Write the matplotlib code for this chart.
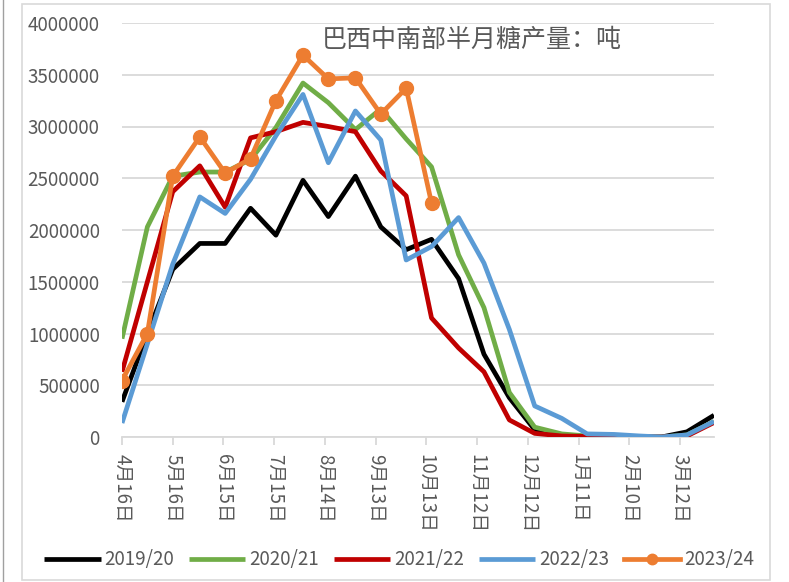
import pandas as pd
import matplotlib.pyplot as plt
import matplotlib.ticker as mticker
from matplotlib.lines import Line2D
from matplotlib.patches import Rectangle

plt.rcParams['font.family'] = ['Noto Sans CJK SC', 'DejaVu Sans']

# 半月数据日期（日期轴）
dates = ['2021-04-16', '2021-05-01', '2021-05-16', '2021-06-01', '2021-06-16', '2021-07-01',
         '2021-07-16', '2021-08-01', '2021-08-16', '2021-09-01', '2021-09-16', '2021-10-01',
         '2021-10-16', '2021-11-01', '2021-11-16', '2021-12-01', '2021-12-16', '2022-01-01',
         '2022-01-16', '2022-02-01', '2022-02-16', '2022-03-01', '2022-03-16', '2022-04-01']

s1920 = [340000, 1000000, 1620000, 1870000, 1870000, 2210000, 1950000, 2480000, 2130000, 2520000,
         2030000, 1810000, 1910000, 1530000, 800000, 380000, 70000, 10000, 5000, 0, 0, 0, 50000, 210000]
s2021 = [950000, 2030000, 2520000, 2560000, 2560000, 2680000, 2990000, 3420000, 3230000, 2970000,
         3170000, 2880000, 2610000, 1760000, 1250000, 430000, 95000, 30000, 10000, 5000, 0, 0, 20000, 150000]
s2122 = [630000, 1500000, 2370000, 2620000, 2220000, 2890000, 2950000, 3040000, 3000000, 2950000,
         2570000, 2330000, 1150000, 860000, 630000, 165000, 35000, 10000, 5000, 0, 0, 0, 10000, 140000]
s2223 = [135000, 900000, 1670000, 2320000, 2160000, 2490000, 2910000, 3310000, 2650000, 3150000,
         2870000, 1710000, 1840000, 2120000, 1680000, 1040000, 300000, 180000, 30000, 25000, 10000, 0, 20000, 150000]
s2324 = [545000, 1000000, 2520000, 2900000, 2550000, 2690000, 3250000, 3690000, 3460000, 3470000,
         3120000, 3370000, 2260000]

labels = ['2019/20', '2020/21', '2021/22', '2022/23', '2023/24']
colors = ['#000000', '#70AD47', '#C00000', '#5B9BD5', '#ED7D31']

tick_labels = ['4月16日', '5月16日', '6月15日', '7月15日', '8月14日', '9月13日',
               '10月13日', '11月12日', '12月12日', '1月11日', '2月10日', '3月12日']

x = pd.to_datetime(dates)
tick_pos = pd.date_range('2021-04-16', periods=len(tick_labels), freq='30D')

fig = plt.figure(figsize=(7.89, 5.82), dpi=100)
ax = fig.add_axes([122/789, 1-437/582, 592/789, 414/582])

# 外框
fig.patches.append(Rectangle((22/789, 2/582), 748/789, 576/582, transform=fig.transFigure,
                             fill=False, edgecolor='#d9d9d9', linewidth=1.2))
fig.add_artist(Line2D([3/789, 3/789], [0, 1], transform=fig.transFigure, color='#a0a0a0', linewidth=1))

allser = [s1920, s2021, s2122, s2223]
for i, s in enumerate(allser):
    ax.plot(x, s, color=colors[i], linewidth=3.4, label=labels[i], solid_capstyle='butt', zorder=3+i)
ax.plot(x[:len(s2324)], s2324, color=colors[4], linewidth=3.4, marker='o', markersize=10,
        label=labels[4], zorder=8)

ax.set_ylim(0, 4000000)
ax.set_xlim(x[0], x[-1])
ax.yaxis.set_major_locator(mticker.MultipleLocator(500000))
ax.yaxis.set_major_formatter(mticker.FuncFormatter(lambda v, p: '%d' % v))
ax.grid(axis='y', color='#d9d9d9', linewidth=1.3)
ax.set_axisbelow(True)
for sp in ['left', 'right', 'top']:
    ax.spines[sp].set_visible(False)
ax.spines['bottom'].set_color('#d9d9d9')
ax.spines['bottom'].set_linewidth(1.3)
ax.tick_params(axis='y', length=0, labelsize=13.5, labelcolor='#595959', pad=16)
ax.set_xticks(tick_pos)
ax.set_xticklabels(tick_labels, rotation=-90, fontsize=13.5, color='#595959')
ax.tick_params(axis='x', length=6, color='#d9d9d9', width=1.3, pad=6)

ax.text(322/789, 1-40/582, '巴西中南部半月糖产量：吨', transform=fig.transFigure,
        fontsize=18, color='#595959', va='center', ha='left')

fig.legend(loc='center', bbox_to_anchor=(399/789, 1-560/582), ncol=5, frameon=False,
           fontsize=13.5, labelcolor='#595959', handlelength=3.0, columnspacing=0.8,
           handletextpad=0.2, markerscale=0.75)

fig.savefig('out.png', dpi=100)
